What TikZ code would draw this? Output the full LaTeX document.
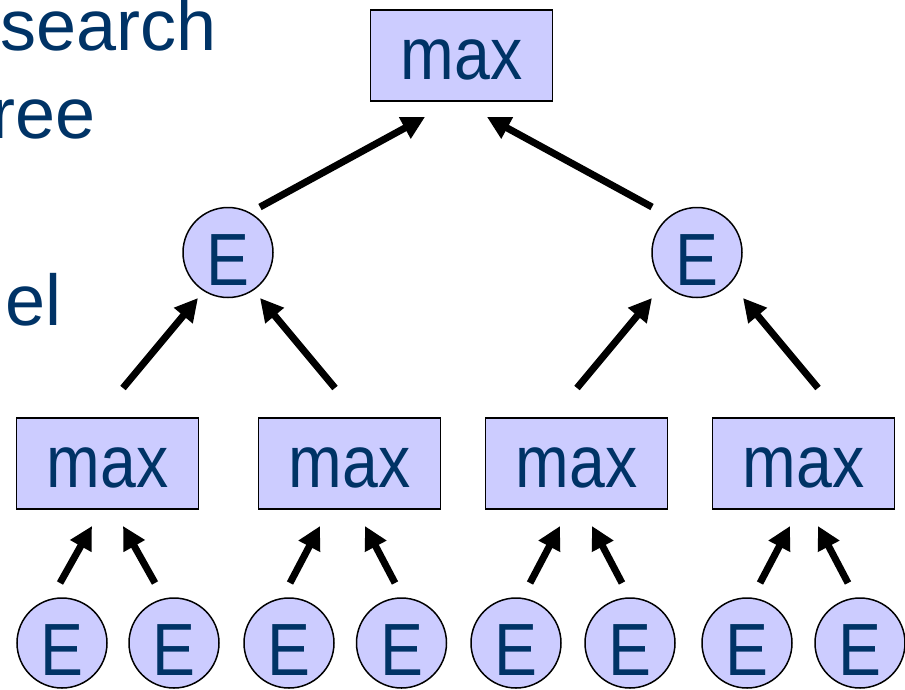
\documentclass[tikz,border=0pt]{standalone}
\usepackage{fontspec}
\setmainfont{Liberation Sans}
\usetikzlibrary{arrows.meta}
\definecolor{navy}{HTML}{003366}
\definecolor{lav}{HTML}{CCCCFF}
\tikzset{
  maxbox/.style={draw=black, line width=1.5pt, fill=lav, text=navy, minimum width=182pt, minimum height=91pt, inner sep=0pt, text height=47pt, text depth=0pt, font=\fontsize{74}{80}\selectfont},
  enode/.style={circle, draw=black, line width=1.5pt, fill=lav, text=navy, minimum size=90pt, inner sep=0pt, text height=65pt, text depth=0pt, font=\fontsize{74}{80}\selectfont},
  uparrow/.style={line width=7pt, -{Triangle[length=23pt,width=23pt]}},
  sidetext/.style={text=navy, inner sep=0pt, anchor=base east, font=\fontsize{72}{80}\selectfont}
}
\newcommand{\sq}[1]{\scalebox{0.87}[1]{#1}}
\begin{document}
\begin{tikzpicture}[x=1pt,y=-1pt]
\useasboundingbox (0,0) rectangle (905,689);
% side text
\node[sidetext] (t1) at (217,50) {search};
\node[sidetext] (t2) at (96,138) {ree};
\node[sidetext] (t3) at (62,325) {el};
% nodes
\node[maxbox] (root) at (461.5,55.5) {\sq{max}};
\node[enode] (e1) at (228,252.5) {\sq{E}};
\node[enode] (e2) at (697,252.5) {\sq{E}};
\node[maxbox] (m1) at (107.5,463.5) {\sq{max}};
\node[maxbox] (m2) at (349.5,463.5) {\sq{max}};
\node[maxbox] (m3) at (576.5,463.5) {\sq{max}};
\node[maxbox] (m4) at (803.5,463.5) {\sq{max}};
\node[enode] (b1) at (62,643) {\sq{E}};
\node[enode] (b2) at (174,643) {\sq{E}};
\node[enode] (b3) at (289,643) {\sq{E}};
\node[enode] (b4) at (401.5,643) {\sq{E}};
\node[enode] (b5) at (516,643) {\sq{E}};
\node[enode] (b6) at (630,643) {\sq{E}};
\node[enode] (b7) at (747,643) {\sq{E}};
\node[enode] (b8) at (860,643) {\sq{E}};
% arrow end points
\coordinate (a1s) at (260,207); \coordinate (a1e) at (425,117);
\coordinate (a2s) at (652,207); \coordinate (a2e) at (487,117);
\coordinate (a3s) at (123,388); \coordinate (a3e) at (198,298);
\coordinate (a4s) at (335,388); \coordinate (a4e) at (260,298);
\coordinate (a5s) at (577,388); \coordinate (a5e) at (652,298);
\coordinate (a6s) at (818,388); \coordinate (a6e) at (743,298);
\coordinate (b1s) at (60,583); \coordinate (b1e) at (92,526);
\coordinate (b2s) at (155,583); \coordinate (b2e) at (123,526);
\coordinate (b3s) at (290,583); \coordinate (b3e) at (320,526);
\coordinate (b4s) at (395,583); \coordinate (b4e) at (365,526);
\coordinate (b5s) at (530,583); \coordinate (b5e) at (560,526);
\coordinate (b6s) at (622,583); \coordinate (b6e) at (592,526);
\coordinate (b7s) at (760,583); \coordinate (b7e) at (790,526);
\coordinate (b8s) at (848,583); \coordinate (b8e) at (818,526);
\foreach \a in {a1,a2,a3,a4,a5,a6,b1,b2,b3,b4,b5,b6,b7,b8}
  \draw[uparrow] (\a s) -- (\a e);
\end{tikzpicture}
\end{document}
